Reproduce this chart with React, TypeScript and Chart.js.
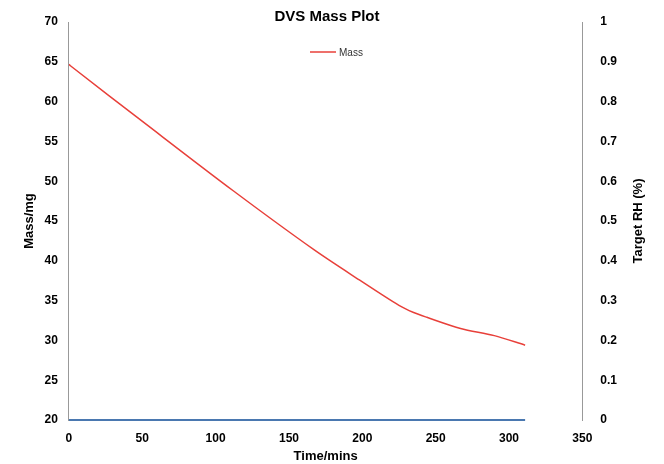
import React, { useRef, useEffect } from "react";
import { Chart } from "chart.js/auto";

const massTimes = [0, 1, 53, 112, 167, 198, 225, 235, 244, 267, 290, 311];
const massValues = [64.7, 64.5, 57.1, 48.8, 41.4, 37.6, 34.4, 33.5, 32.9, 31.5, 30.6, 29.4];
const rhTimes = [0, 311];
const rhValues = [0, 0];

const fontBold = { family: "Liberation Sans", size: 12, weight: "bold" as const };

const extraText = {
  id: "extraText",
  afterDraw(chart: Chart) {
    const s = chart.scales.y1;
    const ctx = chart.ctx;
    ctx.save();
    ctx.fillStyle = "#000";
    ctx.textAlign = "center";
    ctx.textBaseline = "middle";
    ctx.translate(638, (s.top + s.bottom) / 2);
    ctx.rotate(-Math.PI / 2);
    ctx.font = "bold 13px 'Liberation Sans'";
    ctx.fillText("Target RH (%)", 0, 0);
    ctx.restore();

    ctx.save();
    ctx.fillStyle = "#000";
    ctx.textAlign = "center";
    ctx.textBaseline = "middle";
    ctx.font = "bold 15px 'Liberation Sans'";
    ctx.fillText("DVS Mass Plot", 327, 17);
    ctx.strokeStyle = "#e8403a";
    ctx.lineWidth = 1.5;
    ctx.beginPath();
    ctx.moveTo(310, 52);
    ctx.lineTo(336, 52);
    ctx.stroke();
    ctx.fillStyle = "#333";
    ctx.textAlign = "left";
    ctx.font = "10px 'Liberation Sans'";
    ctx.fillText("Mass", 339, 53);
    ctx.restore();
  },
};

const App: React.FC = () => {
  const chartRef = useRef<HTMLCanvasElement | null>(null);

  useEffect(() => {
    if (!chartRef.current) return;
    const chart = new Chart(chartRef.current, {
      type: "line",
      data: {
        datasets: [
          {
            label: "Mass",
            data: massTimes.map((t, i) => ({ x: t, y: massValues[i] })),
            borderColor: "#e8403a",
            backgroundColor: "#e8403a",
            borderWidth: 1.5,
            pointRadius: 0,
            tension: 0.3,
            yAxisID: "y",
          },
          {
            label: "Target RH",
            data: rhTimes.map((t, i) => ({ x: t, y: rhValues[i] })),
            borderColor: "#4a78b0",
            backgroundColor: "#4a78b0",
            borderWidth: 2,
            pointRadius: 0,
            clip: false,
            yAxisID: "y1",
          },
        ],
      },
      options: {
        animation: false,
        responsive: false,
        layout: { padding: { left: 18, right: 37, top: 22, bottom: 0 } },
        scales: {
          x: {
            type: "linear",
            min: 0,
            max: 350,
            ticks: { stepSize: 50, color: "#000", font: fontBold },
            grid: { display: false },
            border: { display: false },
            title: { display: true, text: "Time/mins", color: "#000", padding: 0, font: { ...fontBold, size: 13 } },
          },
          y: {
            min: 20,
            max: 70,
            ticks: { stepSize: 5, color: "#000", font: fontBold },
            grid: { display: false },
            border: { color: "#999" },
            title: { display: true, text: "Mass/mg", color: "#000", font: { ...fontBold, size: 13 } },
          },
          y1: {
            position: "right",
            min: 0,
            max: 1,
            ticks: {
              stepSize: 0.1,
              color: "#000",
              font: fontBold,
              padding: 10,
              callback: (v) => String(Math.round(Number(v) * 10) / 10),
            },
            grid: { display: false },
            border: { color: "#999" },
          },
        },
        plugins: {
          title: { display: false },
          legend: { display: false },
          tooltip: { enabled: false },
        },
      },
      plugins: [extraText],
    });
    return () => chart.destroy();
  }, []);

  return (
    <div style={{ position: "absolute", left: 0, top: 0, width: 664, height: 464, background: "#fff" }}>
      <canvas ref={chartRef} width={664} height={464}></canvas>
    </div>
  );
};

export default App;
